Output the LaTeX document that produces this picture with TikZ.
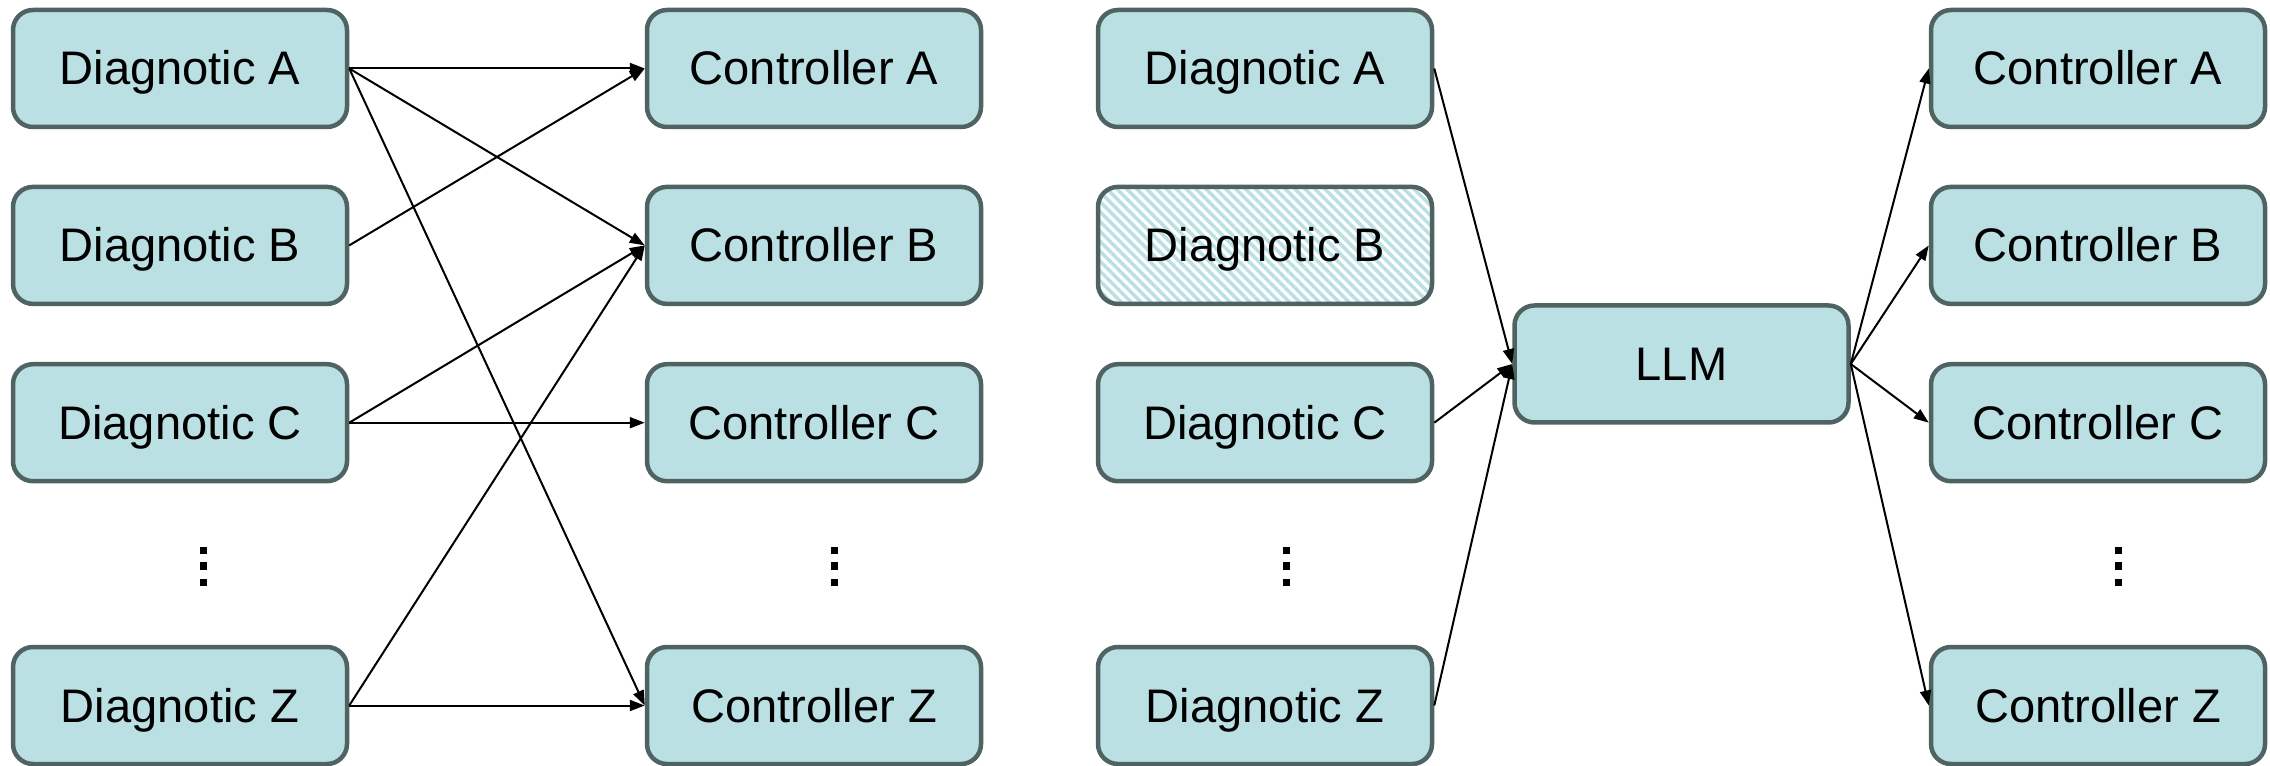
\documentclass[tikz,border=0pt]{standalone}
\usepackage{fontspec}
\newfontfamily\boxfont{Liberation Sans}
\usetikzlibrary{arrows.meta,patterns.meta}
\definecolor{boxfill}{RGB}{187,224,227}
\definecolor{boxline}{RGB}{80,99,99}
\begin{document}
\begin{tikzpicture}[
  boxbase/.style={draw=boxline, line width=0.045cm, rounded corners=0.2cm,
    minimum width=3.34cm, minimum height=1.17cm, inner sep=0pt,
    text height=0.33cm, text depth=0cm,
    font=\boxfont\fontsize{13.4}{16}\selectfont},
  box/.style={boxbase, fill=boxfill},
  hatched/.style={boxbase, preaction={fill=white},
    pattern={Lines[angle=-45,distance=0.07cm,line width=0.035cm]}, pattern color=boxfill},
  link/.style={-{Triangle[length=0.15cm,width=0.11cm]}, line width=0.02cm, black},
  sqdot/.style={fill=black, minimum size=0.07cm, inner sep=0pt, draw=none}
]
\useasboundingbox (0,0) rectangle (22.70,7.65);

% left diagram
\node[box] (dA) at (1.80,6.965) {Diagnotic A};
\node[box] (dB) at (1.80,5.196) {Diagnotic B};
\node[box] (dC) at (1.80,3.423) {Diagnotic C};
\node[box] (dZ) at (1.80,0.595) {Diagnotic Z};
\node[box] (cA) at (8.14,6.965) {Controller A};
\node[box] (cB) at (8.14,5.196) {Controller B};
\node[box] (cC) at (8.14,3.423) {Controller C};
\node[box] (cZ) at (8.14,0.595) {Controller Z};

% right diagram
\node[box] (rA) at (12.65,6.965) {Diagnotic A};
\node[hatched] (rB) at (12.65,5.196) {Diagnotic B};
\node[box] (rC) at (12.65,3.423) {Diagnotic C};
\node[box] (rZ) at (12.65,0.595) {Diagnotic Z};
\node[box] (llm) at (16.815,4.01) {LLM};
\node[box] (rcA) at (20.98,6.965) {Controller A};
\node[box] (rcB) at (20.98,5.196) {Controller B};
\node[box] (rcC) at (20.98,3.423) {Controller C};
\node[box] (rcZ) at (20.98,0.595) {Controller Z};

% vertical ellipses
\foreach \n/\x in {e1/2.03, e2/8.34, e3/12.86, e4/21.18} {
  \node[sqdot] (\n a) at (\x,2.15) {};
  \node[sqdot] (\n b) at (\x,1.99) {};
  \node[sqdot] (\n c) at (\x,1.83) {};
}

% left connectors
\draw[link] (dA.east) -- (cA.west);
\draw[link] (dA.east) -- (cB.west);
\draw[link] (dA.east) -- (cZ.west);
\draw[link] (dB.east) -- (cA.west);
\draw[link] (dC.east) -- (cB.west);
\draw[link] (dC.east) -- (cC.west);
\draw[link] (dZ.east) -- (cB.west);
\draw[link] (dZ.east) -- (cZ.west);

% right connectors
\draw[link] (rA.east) -- (llm.west);
\draw[link] (rC.east) -- (llm.west);
\draw[link] (rZ.east) -- (llm.west);
\draw[link] (llm.east) -- (rcA.west);
\draw[link] (llm.east) -- (rcB.west);
\draw[link] (llm.east) -- (rcC.west);
\draw[link] (llm.east) -- (rcZ.west);
\end{tikzpicture}
\end{document}
